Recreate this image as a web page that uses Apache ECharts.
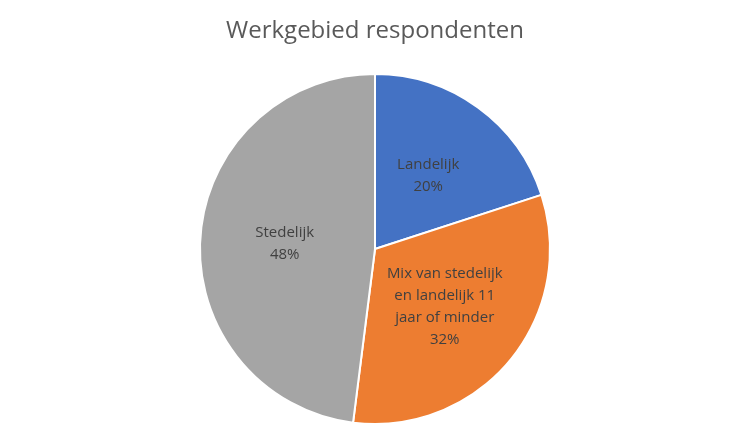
<!DOCTYPE html>
<html><head><meta charset="utf-8">
<script src="https://cdn.jsdelivr.net/npm/echarts@6/dist/echarts.min.js"></script>
<style>html,body{margin:0;padding:0;background:#fff}#c{width:750px;height:447px}</style>
</head><body><div id="c"></div>
<script>
const categories = ["Landelijk", "Mix van stedelijk\nen landelijk 11\njaar of minder", "Stedelijk"];
const values = [20, 32, 48];
const colors = ["#4472C4", "#ED7D31", "#A5A5A5"];
const chart = echarts.init(document.getElementById('c'));
chart.setOption({
  animation: false,
  title: { text: "Werkgebied respondenten", left: 'center', top: 14,
    textStyle: { fontFamily: 'Open Sans', fontSize: 24, fontWeight: 'normal', color: '#595959' } },
  series: [{
    type: 'pie', center: [375, 249], radius: 175, startAngle: 90, clockwise: true,
    data: categories.map((n, i) => ({ name: n, value: values[i], itemStyle: { color: colors[i] } })),
    itemStyle: { borderColor: '#fff', borderWidth: 2 },
    label: { position: 'inside', formatter: '{b}\n{d}%', fontFamily: 'Open Sans', fontSize: 15,
      color: '#404040', lineHeight: 22 },
    labelLine: { show: false }
  }]
});
</script></body></html>
